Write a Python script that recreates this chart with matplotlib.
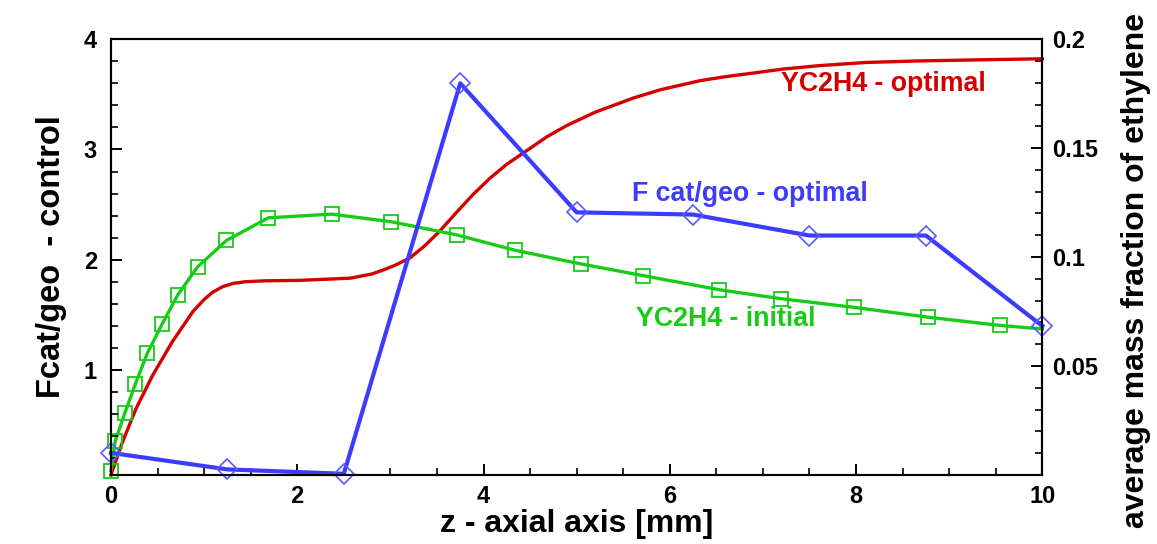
import matplotlib
matplotlib.use("Agg")
import matplotlib.pyplot as plt
from matplotlib.ticker import MultipleLocator, FixedLocator

plt.rcParams['font.family'] = ['Liberation Sans', 'DejaVu Sans']
plt.rcParams['font.weight'] = 'bold'
plt.rcParams['axes.labelweight'] = 'bold'

RED = '#d40000'
GREEN = '#16cc16'
BLUE = '#3c3cff'

# F cat/geo - optimal (left axis)
fcat_x = [0, 1.25, 2.5, 3.75, 5, 6.25, 7.5, 8.75, 10]
fcat_y = [0.25, 0.10, 0.06, 3.60, 2.43, 2.41, 2.22, 2.22, 1.40]

# YC2H4 - initial (right axis), grid points with square markers
init_x = [0, 0.046, 0.15, 0.26, 0.39, 0.55, 0.72, 0.93, 1.24, 1.69, 2.37, 3.01,
          3.71, 4.34, 5.05, 5.71, 6.53, 7.19, 7.98, 8.77, 9.55, 10]
init_y = [0.002, 0.0155, 0.0285, 0.0415, 0.0558, 0.0693, 0.0828, 0.0955, 0.1076,
          0.118, 0.1197, 0.1162, 0.1102, 0.1031, 0.0968, 0.0915, 0.085, 0.0809,
          0.0769, 0.0724, 0.0686, 0.067]

# YC2H4 - optimal (right axis)
opt_x = [0, 0.125, 0.27, 0.45, 0.66, 0.88, 1.0, 1.09, 1.2, 1.31, 1.45, 1.67, 2.03,
         2.57, 2.8, 2.92, 3.05, 3.21, 3.37, 3.53, 3.71, 3.89, 4.07, 4.25, 4.47,
         4.68, 4.9, 5.2, 5.61, 5.9, 6.33, 6.6, 6.87, 7.2, 7.59, 8.1, 8.66, 9.3, 10]
opt_y = [0, 0.0152, 0.0305, 0.0459, 0.0612, 0.075, 0.0805, 0.0838, 0.0864, 0.0879,
         0.0887, 0.0891, 0.0893, 0.0903, 0.0922, 0.0940, 0.0962, 0.0996, 0.1052,
         0.1119, 0.1205, 0.1288, 0.1362, 0.1426, 0.1490, 0.1552, 0.1605, 0.1665,
         0.173, 0.1768, 0.181, 0.1828, 0.1843, 0.1862, 0.1878, 0.1893, 0.19,
         0.1905, 0.191]

fig = plt.figure(figsize=(11.57, 5.44), dpi=100)
ax = fig.add_axes([0.0959, 0.127, 0.805, 0.801])
ax2 = ax.twinx()

# ethylene curves on the right axis, control on the left
ax2.plot(opt_x, opt_y, color=RED, lw=2.4, clip_on=False, zorder=2)
ax2.plot(init_x, init_y, color=GREEN, lw=2.4, marker='s', markersize=9.5,
         markerfacecolor='none', markeredgecolor=GREEN, markeredgewidth=1.3,
         markevery=list(range(len(init_x) - 1)), clip_on=False, zorder=3)
ax.set_zorder(ax2.get_zorder() + 1)
ax.patch.set_visible(False)
ax.plot(fcat_x, fcat_y, color=BLUE, lw=3, marker='D', markersize=10,
        markerfacecolor='none', markeredgecolor='#5a5aff', markeredgewidth=1.2,
        clip_on=False)

ax.set_xlim(0, 10)
ax.set_ylim(0.05, 4)
ax2.set_ylim(0, 0.2)

ax.xaxis.set_major_locator(MultipleLocator(2))
ax.xaxis.set_minor_locator(MultipleLocator(0.5))
ax.yaxis.set_major_locator(FixedLocator([1, 2, 3, 4]))
ax.yaxis.set_minor_locator(MultipleLocator(0.2))
ax2.yaxis.set_major_locator(FixedLocator([0.05, 0.1, 0.15, 0.2]))
ax2.yaxis.set_minor_locator(MultipleLocator(0.01))
ax2.set_yticklabels(['0.05', '0.1', '0.15', '0.2'])

for a in (ax, ax2):
    a.tick_params(which='major', direction='in', length=8, width=1.4, labelsize=17)
    a.tick_params(which='minor', direction='in', length=5, width=1.2)
    for s in a.spines.values():
        s.set_linewidth(1.5)
ax.tick_params(axis='x', pad=7)
ax.tick_params(axis='y', pad=10)
ax2.tick_params(axis='y', pad=7)

ax.set_xlabel('z - axial axis [mm]', fontsize=23, fontweight='bold', labelpad=1)
ax.set_ylabel('Fcat/geo  - control', fontsize=23.5, fontweight='bold', labelpad=12)
ax2.set_ylabel('average mass fraction of ethylene', fontsize=23, fontweight='bold')
ax2.yaxis.set_label_coords(1.084, 0.47)

ax2.text(7.19, 0.1796, 'YC2H4 - optimal', color=RED, fontsize=19.3, va='center')
ax2.text(5.59, 0.129, 'F cat/geo - optimal', color=BLUE, fontsize=19.3, va='center')
ax2.text(5.64, 0.0714, 'YC2H4 - initial', color=GREEN, fontsize=19.3, va='center')

fig.savefig('out.png', dpi=100)
